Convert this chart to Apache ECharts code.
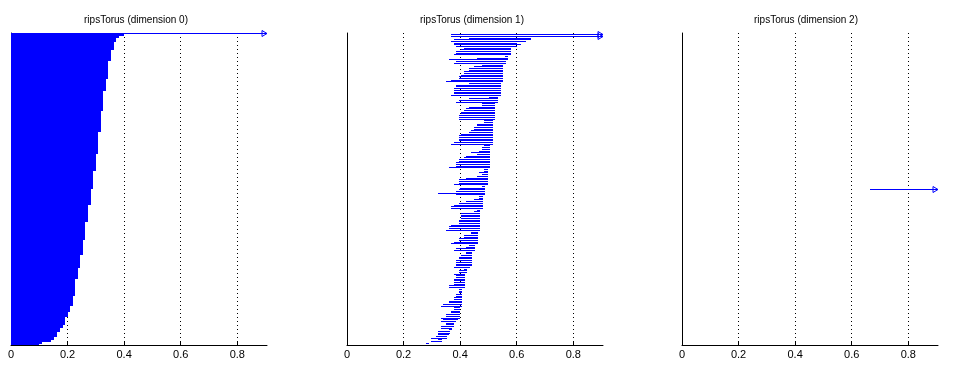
<!DOCTYPE html>
<html>
<head>
<meta charset="utf-8">
<title>ripsTorus barcodes</title>
<script src="https://cdn.jsdelivr.net/npm/echarts@6/dist/echarts.min.js"></script>
<style>
  html, body { margin: 0; padding: 0; background: #fff; }
  #chart { width: 959px; height: 365px; }
</style>
</head>
<body>
<div id="chart"></div>
<script>
var titles = ['ripsTorus (dimension 0)', 'ripsTorus (dimension 1)', 'ripsTorus (dimension 2)'];
var xMax = 0.905;

// dimension 0: all bars born at 0, deaths top to bottom as runs (null = infinite)
var dim0Deaths = [null, 0.399, 0.382, 0.370, 0.365, 0.353, 0.342, 0.335, 0.325, 0.317, 0.306,
  0.300, 0.289, 0.282, 0.271, 0.261, 0.253, 0.244, 0.237, 0.226, 0.219, 0.208, 0.201,
  0.191, 0.184, 0.173, 0.163, 0.152, 0.140, 0.110, 0.100];
var dim0Counts = [1, 2, 2, 4, 8, 11, 18, 12, 20, 21, 22,
  17, 18, 17, 17, 18, 15, 13, 11, 17, 10, 6, 5,
  8, 3, 4, 5, 3, 2, 2, 1];

// dimension 1, top to bottom
var dim1Births = [0.367, 0.367, 0.431, 0.378, 0.367, 0.378, 0.378, 0.385, 0.413, 0.403,
  0.385, 0.385, 0.378, 0.558, 0.459, 0.360, 0.385, 0.378, 0.477, 0.449,
  0.431, 0.431, 0.413, 0.413, 0.403, 0.396, 0.396, 0.367, 0.350, 0.431,
  0.385, 0.385, 0.378, 0.378, 0.378, 0.378, 0.367, 0.502, 0.431, 0.396,
  0.385, 0.477, 0.477, 0.431, 0.420, 0.413, 0.403, 0.403, 0.396, 0.396,
  0.396, 0.484, 0.484, 0.459, 0.459, 0.449, 0.449, 0.438, 0.431, 0.403,
  0.396, 0.396, 0.396, 0.396, 0.378, 0.367, 0.484, 0.477, 0.477, 0.466,
  0.438, 0.459, 0.420, 0.413, 0.396, 0.396, 0.385, 0.385, 0.385, 0.360,
  0.484, 0.484, 0.466, 0.477, 0.459, 0.420, 0.396, 0.396, 0.396, 0.378,
  0.477, 0.399, 0.396, 0.385, 0.322, 0.385, 0.466, 0.466, 0.449, 0.420,
  0.396, 0.378, 0.367, 0.367, 0.459, 0.449, 0.403, 0.403, 0.403, 0.403,
  0.396, 0.396, 0.396, 0.367, 0.360, 0.360, 0.350, 0.438, 0.438, 0.413,
  0.413, 0.396, 0.396, 0.378, 0.367, 0.431, 0.420, 0.385, 0.378, 0.420,
  0.420, 0.403, 0.396, 0.396, 0.385, 0.385, 0.385, 0.385, 0.378, 0.413,
  0.396, 0.396, 0.378, 0.385, 0.385, 0.378, 0.378, 0.378, 0.378, 0.360,
  0.360, 0.396, 0.396, 0.396, 0.385, 0.385, 0.378, 0.378, 0.360, 0.360,
  0.339, 0.332, 0.378, 0.378, 0.367, 0.367, 0.350, 0.350, 0.332, 0.339,
  0.332, 0.350, 0.350, 0.332, 0.332, 0.360, 0.322, 0.322, 0.322, 0.314,
  0.297, 0.322, 0.297, 0.279];
var dim1Deaths = [null, null, 0.650, 0.650, 0.633, 0.600, 0.615, 0.600, 0.580, 0.580,
  0.580, 0.580, 0.580, 0.569, 0.569, 0.569, 0.562, 0.562, 0.551, 0.551,
  0.551, 0.551, 0.551, 0.551, 0.551, 0.551, 0.551, 0.551, 0.551, 0.544,
  0.544, 0.544, 0.544, 0.544, 0.544, 0.544, 0.544, 0.534, 0.534, 0.534,
  0.534, 0.523, 0.523, 0.523, 0.523, 0.523, 0.523, 0.523, 0.523, 0.523,
  0.523, 0.516, 0.516, 0.516, 0.516, 0.516, 0.516, 0.516, 0.516, 0.516,
  0.516, 0.516, 0.516, 0.516, 0.516, 0.516, 0.505, 0.505, 0.505, 0.505,
  0.505, 0.505, 0.505, 0.505, 0.505, 0.505, 0.505, 0.505, 0.505, 0.505,
  0.498, 0.498, 0.498, 0.498, 0.498, 0.498, 0.498, 0.498, 0.498, 0.498,
  0.488, 0.488, 0.488, 0.488, 0.488, 0.488, 0.481, 0.481, 0.481, 0.481,
  0.481, 0.481, 0.481, 0.481, 0.470, 0.470, 0.470, 0.470, 0.470, 0.470,
  0.470, 0.470, 0.470, 0.470, 0.470, 0.470, 0.470, 0.463, 0.463, 0.463,
  0.463, 0.463, 0.463, 0.463, 0.463, 0.452, 0.452, 0.452, 0.452, 0.442,
  0.442, 0.442, 0.442, 0.442, 0.442, 0.442, 0.442, 0.442, 0.435, 0.424,
  0.424, 0.424, 0.417, 0.417, 0.417, 0.417, 0.417, 0.417, 0.417, 0.417,
  0.417, 0.406, 0.406, 0.406, 0.406, 0.406, 0.406, 0.406, 0.406, 0.406,
  0.406, 0.406, 0.399, 0.399, 0.399, 0.399, 0.399, 0.399, 0.399, 0.392,
  0.385, 0.378, 0.378, 0.378, 0.371, 0.371, 0.364, 0.364, 0.360, 0.353,
  0.353, 0.336, 0.336, 0.290];

// dimension 2
var dim2Births = [0.664];
var dim2Deaths = [null];

// rows: [birth, death, y, infinite]
const buildRows = (births, deaths) => {
  let n = births.length;
  return births.map((b, i) => [b, deaths[i] == null ? xMax : deaths[i], n - i, deaths[i] == null ? 1 : 0]);
};

let dim0Births = [];
let dim0DeathList = [];
dim0Deaths.forEach((d, i) => {
  for (let k = 0; k < dim0Counts[i]; k++) {
    dim0Births.push(0);
    dim0DeathList.push(d);
  }
});

const panels = [
  { rows: buildRows(dim0Births, dim0DeathList), fill: true },
  { rows: buildRows(dim1Births, dim1Deaths), fill: false },
  { rows: buildRows(dim2Births, dim2Deaths), fill: false },
];

const lefts = [11, 347, 682];
const titleCenters = [136, 472, 806];
const blue = '#0000ff';

const makeRender = (fill) => (params, api) => {
  let p0 = api.coord([api.value(0), api.value(2)]);
  let p1 = api.coord([api.value(1), api.value(2)]);
  let x0 = Math.round(p0[0]);
  let x1 = Math.round(p1[0]);
  let children = [];
  let y, h;
  if (fill) {
    // solid barcode: rows tile the pixel column without anti-aliased seams
    let s = api.size([0, 1])[1];
    y = Math.round(p0[1] - s / 2);
    h = Math.max(1, Math.round(p0[1] + s / 2) - y);
  } else {
    y = Math.floor(p0[1]);
    h = 1;
  }
  children.push({
    type: 'rect',
    shape: { x: x0, y: y, width: x1 - x0, height: h },
    style: { fill: blue },
  });
  if (api.value(3) === 1) {
    let tip = p1[0];
    let cy = Math.floor(p0[1]) + 0.5;
    children.push({
      type: 'polygon',
      shape: { points: [[tip - 5, cy - 3], [tip, cy], [tip - 5, cy + 3]] },
      style: { fill: 'none', stroke: blue, lineWidth: 1 },
    });
  }
  return { type: 'group', children: children };
};

let chart = echarts.init(document.getElementById('chart'), null, { renderer: 'canvas' });

chart.setOption({
  animation: false,
  backgroundColor: '#fff',
  textStyle: { fontFamily: 'Liberation Sans, Arial, sans-serif' },
  title: titles.map((t, i) => ({
    text: t,
    left: titleCenters[i],
    top: 15,
    padding: 0,
    textAlign: 'center',
    textStyle: { fontSize: 10, fontWeight: 'normal', color: '#000', fontFamily: 'Liberation Sans, Arial, sans-serif' },
  })),
  grid: lefts.map((l) => ({ left: l, top: 33, width: 256, height: 312, containLabel: false })),
  xAxis: panels.map((p, i) => ({
    type: 'value',
    gridIndex: i,
    min: 0,
    max: xMax,
    interval: 0.2,
    axisLine: { show: true, lineStyle: { color: '#000', width: 1 } },
    axisTick: { show: true, inside: true, length: 3, lineStyle: { color: '#000' } },
    axisLabel: {
      show: true, margin: 4, color: '#000', fontSize: 11, showMaxLabel: false,
      fontFamily: 'Liberation Sans, Arial, sans-serif',
    },
    splitLine: {
      show: true, showMinLine: false, showMaxLine: false,
      lineStyle: { color: '#000', type: [1, 3], width: 1 },
    },
  })),
  yAxis: panels.map((p, i) => ({
    type: 'value',
    gridIndex: i,
    min: 0,
    max: p.rows.length + 1,
    axisLine: { show: true, lineStyle: { color: '#000', width: 1 } },
    axisTick: { show: false },
    axisLabel: { show: false },
    splitLine: { show: false },
  })),
  series: panels.map((p, i) => ({
    type: 'custom',
    xAxisIndex: i,
    yAxisIndex: i,
    renderItem: makeRender(p.fill),
    encode: { x: [0, 1], y: 2 },
    data: p.rows,
    clip: false,
  })),
});
</script>
</body>
</html>
